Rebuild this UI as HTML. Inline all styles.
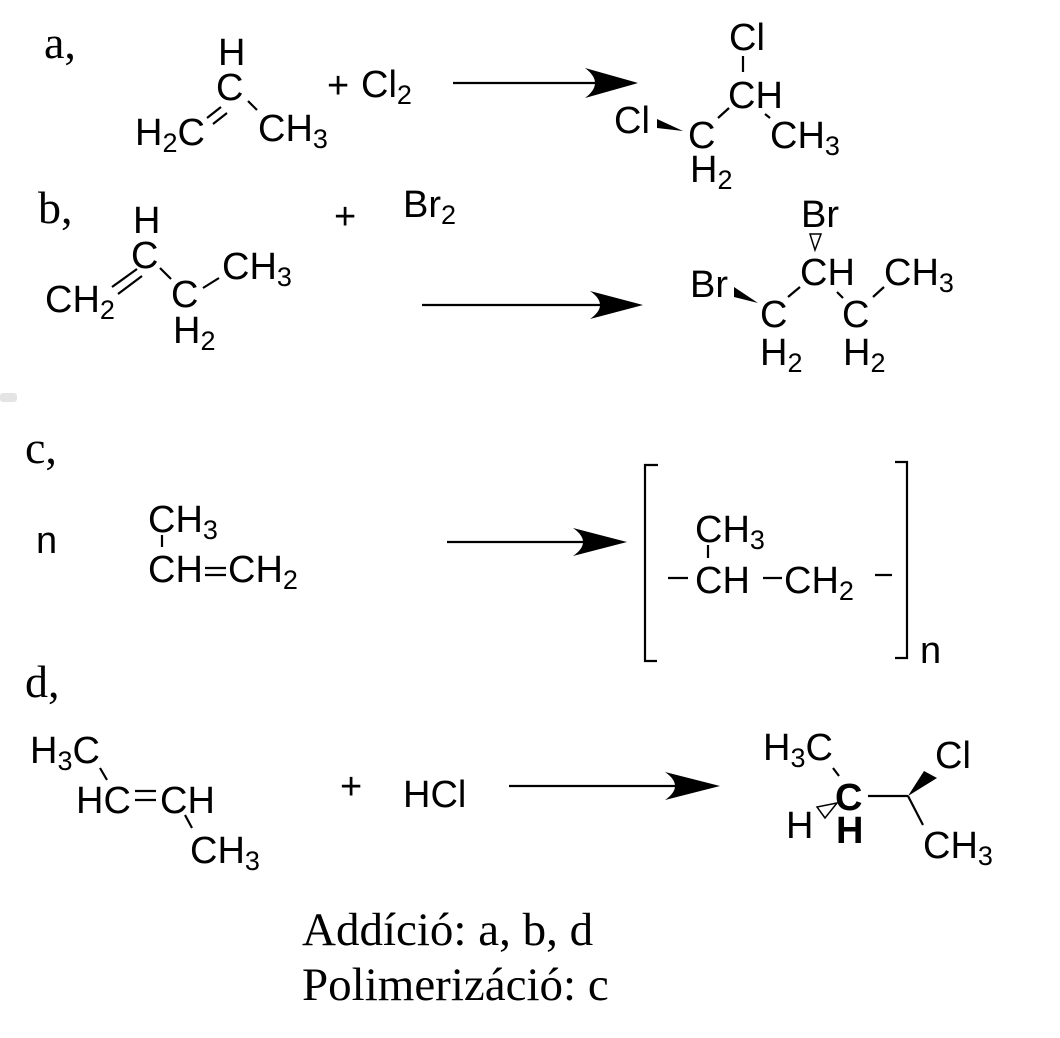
<!DOCTYPE html>
<html><head><meta charset="utf-8"><style>
html,body{margin:0;padding:0;background:#fff;}
svg{display:block;}
.t{font-family:"Liberation Sans",Arial,sans-serif;font-size:38px;fill:#000;}
.s{font-size:27px;}
.tm{font-family:"Liberation Serif","Times New Roman",serif;font-size:46px;fill:#000;}
.b{font-weight:bold;}
line,path.l{stroke:#000;stroke-width:2.2;fill:none;}
</style></head><body>
<svg width="1060" height="1038" viewBox="0 0 1060 1038" xmlns="http://www.w3.org/2000/svg">
<rect x="0" y="393" width="17" height="9" rx="3" fill="#e4e4e4"/>

<!-- labels -->
<text class="tm" x="44" y="58">a,</text>
<text class="tm" x="38" y="223">b,</text>
<text class="tm" x="25" y="463">c,</text>
<text class="tm" x="25" y="697">d,</text>

<!-- ===== a ===== -->
<text class="t" x="218" y="65">H</text>
<text class="t" x="216" y="100">C</text>
<text class="t" x="135" y="145">H<tspan class="s" dy="7">2</tspan><tspan dy="-7">C</tspan></text>
<line x1="207" y1="118" x2="221" y2="107"/>
<line x1="213" y1="124" x2="227" y2="113"/>
<line x1="248" y1="101" x2="257" y2="110"/>
<text class="t" x="258" y="141">CH<tspan class="s" dy="7">3</tspan></text>
<text class="t" x="327" y="98">+</text>
<text class="t" x="361" y="97">Cl<tspan class="s" dy="7">2</tspan></text>

<line x1="453" y1="83" x2="600" y2="83"/>
<path d="M638,83 L585,68 Q605,83 585,98 Z" fill="#000"/>

<text class="t" x="729" y="50">Cl</text>
<line x1="743" y1="56" x2="743" y2="72"/>
<text class="t" x="728" y="108">CH</text>
<text class="t" x="614" y="133">Cl</text>
<polygon points="657,119 657,128 683,131" fill="#000"/>
<text class="t" x="688" y="148">C</text>
<text class="t" x="690" y="182">H<tspan class="s" dy="7">2</tspan></text>
<line x1="718" y1="118" x2="729" y2="108"/>
<line x1="765" y1="114" x2="770" y2="118"/>
<text class="t" x="770" y="148">CH<tspan class="s" dy="7">3</tspan></text>

<!-- ===== b ===== -->
<text class="t" x="133" y="233">H</text>
<text class="t" x="131" y="268">C</text>
<text class="t" x="45" y="312">CH<tspan class="s" dy="7">2</tspan></text>
<line x1="112" y1="287" x2="137" y2="269"/>
<line x1="118" y1="294" x2="142" y2="276"/>
<line x1="160" y1="268" x2="171" y2="279"/>
<text class="t" x="171" y="307">C</text>
<text class="t" x="173" y="343">H<tspan class="s" dy="7">2</tspan></text>
<line x1="203" y1="288" x2="219" y2="278"/>
<text class="t" x="222" y="279">CH<tspan class="s" dy="7">3</tspan></text>
<text class="t" x="334" y="229">+</text>
<text class="t" x="403" y="217">Br<tspan class="s" dy="7">2</tspan></text>

<line x1="422" y1="305" x2="605" y2="305"/>
<path d="M643,305 L590,291 Q610,305 590,319 Z" fill="#000"/>

<text class="t" x="801" y="227">Br</text>
<polygon points="810,234 821,234 815,250" fill="#fff" stroke="#000" stroke-width="1.5"/>
<text class="t" x="800" y="285">CH</text>
<text class="t" x="690" y="297">Br</text>
<polygon points="734,287 734,297 758,303" fill="#000"/>
<text class="t" x="760" y="327">C</text>
<text class="t" x="760" y="365">H<tspan class="s" dy="7">2</tspan></text>
<line x1="788" y1="297" x2="800" y2="287"/>
<line x1="837" y1="292" x2="843" y2="298"/>
<text class="t" x="842" y="327">C</text>
<text class="t" x="843" y="365">H<tspan class="s" dy="7">2</tspan></text>
<line x1="873" y1="297" x2="884" y2="287"/>
<text class="t" x="884" y="285">CH<tspan class="s" dy="7">3</tspan></text>

<!-- ===== c ===== -->
<text class="t" x="36" y="553">n</text>
<text class="t" x="148" y="532">CH<tspan class="s" dy="7">3</tspan></text>
<line x1="162" y1="535" x2="162" y2="547"/>
<text class="t" x="148" y="582">CH</text>
<line x1="205" y1="568" x2="226" y2="568"/>
<line x1="205" y1="575" x2="226" y2="575"/>
<text class="t" x="228" y="582">CH<tspan class="s" dy="7">2</tspan></text>

<line x1="447" y1="542" x2="590" y2="542"/>
<path d="M627,542 L573,528 Q593,542 573,556 Z" fill="#000"/>

<path class="l" d="M658,465 H645 V661 H657"/>
<path class="l" d="M895,462 H907 V658 H895"/>
<text class="t" x="920" y="663">n</text>
<text class="t" x="695" y="542">CH<tspan class="s" dy="7">3</tspan></text>
<line x1="708" y1="545" x2="708" y2="558"/>
<line x1="668" y1="578" x2="688" y2="578"/>
<text class="t" x="695" y="593">CH</text>
<line x1="763" y1="578" x2="782" y2="578"/>
<text class="t" x="784" y="593">CH<tspan class="s" dy="7">2</tspan></text>
<line x1="875" y1="575" x2="892" y2="575"/>

<!-- ===== d ===== -->
<text class="t" x="30" y="763">H<tspan class="s" dy="7">3</tspan><tspan dy="-7">C</tspan></text>
<line x1="100" y1="768" x2="107" y2="780"/>
<text class="t" x="76" y="813">HC</text>
<line x1="135" y1="791" x2="156" y2="791"/>
<line x1="135" y1="800" x2="156" y2="800"/>
<text class="t" x="160" y="813">CH</text>
<line x1="185" y1="815" x2="192" y2="828"/>
<text class="t" x="190" y="863">CH<tspan class="s" dy="7">3</tspan></text>
<text class="t" x="340" y="799">+</text>
<text class="t" x="403" y="807">HCl</text>

<line x1="509" y1="786" x2="685" y2="786"/>
<path d="M720,786 L665,772 Q685,786 665,800 Z" fill="#000"/>

<text class="t" x="763" y="760">H<tspan class="s" dy="7">3</tspan><tspan dy="-7">C</tspan></text>
<line x1="833" y1="768" x2="839" y2="776"/>
<text class="t b" x="835" y="810">C</text>
<line x1="868" y1="796" x2="908" y2="796"/>
<polygon points="908,796 924,771 937,778" fill="#000"/>
<text class="t" x="935" y="768">Cl</text>
<line x1="908" y1="796" x2="923" y2="825"/>
<text class="t" x="923" y="858">CH<tspan class="s" dy="7">3</tspan></text>
<text class="t" x="786" y="838">H</text>
<polygon points="837,803 817,807 825,818" fill="#fff" stroke="#000" stroke-width="1.5"/>
<text class="t b" x="836" y="843">H</text>

<!-- bottom text -->
<text class="tm" x="302" y="945" style="font-size:47px">Addíció: a, b, d</text>
<text class="tm" x="302" y="1000" style="font-size:47px">Polimerizáció: c</text>
</svg>
</body></html>
